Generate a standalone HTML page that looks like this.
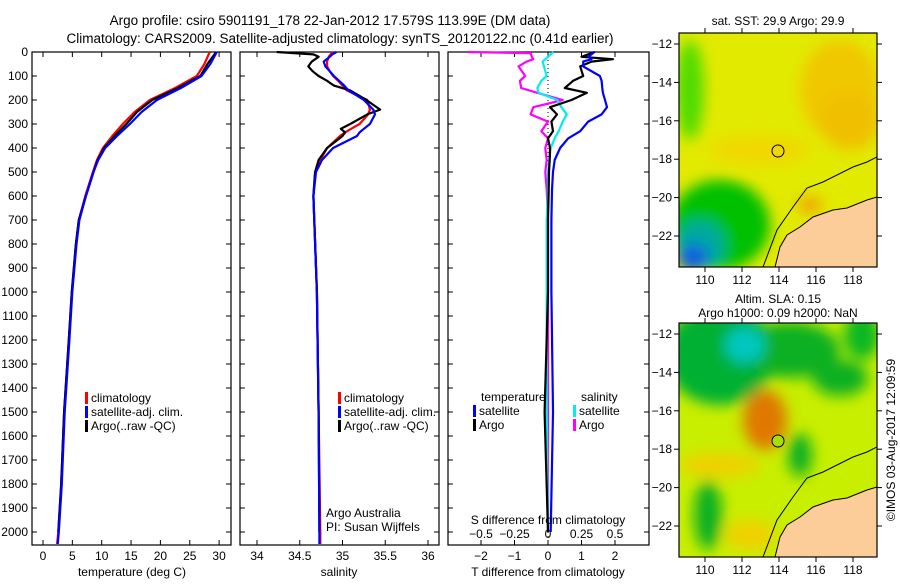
<!DOCTYPE html>
<html><head><meta charset="utf-8">
<style>
body{margin:0;background:#fff;width:900px;height:580px;overflow:hidden}
svg{font-family:"Liberation Sans",sans-serif;font-size:12px}
</style></head><body>
<svg id="chart" width="900" height="580">
<text x="330" y="25" text-anchor="middle" font-size="13.5">Argo profile: csiro 5901191_178 22-Jan-2012 17.579S 113.99E (DM data)</text>
<text x="340" y="43" text-anchor="middle" font-size="13.5">Climatology: CARS2009. Satellite-adjusted climatology: synTS_20120122.nc (0.41d earlier)</text>
<defs>
<filter id="bl" x="-50%" y="-50%" width="200%" height="200%"><feGaussianBlur stdDeviation="7"/></filter>
<clipPath id="m1"><rect x="679" y="33" width="198" height="234"/></clipPath>
<clipPath id="m2"><rect x="679" y="323" width="198" height="234"/></clipPath>
</defs>
<g id="maps"></g>
<g id="plots"></g>
</svg>
<script>
// ---- data ----
const depthsT=[0,50,100,150,200,250,300,350,400,450,500,600,700,800,1000,1200,1500,1800,2000,2050];
const tempClim=[28.4,27.5,26.2,22.5,18.2,15.6,13.6,11.8,10.2,9.2,8.5,7.2,6.1,5.6,4.9,4.4,3.6,3.1,2.6,2.4];
const tempSat=[29.6,28.5,27.0,23.5,19.4,16.8,14.8,12.6,10.6,9.4,8.6,7.3,6.2,5.7,5.0,4.5,3.7,3.2,2.7,2.5];
const tempArgo=[29.5,28.0,26.8,23.0,18.6,16.0,14.2,12.2,10.4,9.3,8.6,7.3,6.1,5.6,4.9,4.4,3.6,3.1,2.6];
const depthsS=[0,10,20,40,60,80,100,120,140,160,200,240,260,300,320,335,350,400,450,500,600,1000,1500,2000,2050];
const salClim=[34.89,34.86,34.84,34.82,34.82,34.85,34.89,34.95,35.0,35.05,35.29,35.32,35.3,35.2,35.1,35.03,34.97,34.82,34.74,34.68,34.66,34.70,34.72,34.74,34.74];
const salSat=[34.93,34.88,34.85,34.78,34.80,34.85,34.90,34.96,35.02,35.07,35.25,35.36,35.38,35.32,35.25,35.2,35.17,34.89,34.76,34.69,34.66,34.70,34.72,34.73,34.73];
const salArgo=[34.23,34.66,34.72,34.64,34.60,34.65,34.72,34.82,34.90,35.09,35.28,35.44,35.29,35.09,34.98,35.03,35.0,34.82,34.72,34.68,34.66,34.70,34.72,34.73];
const depthsD=[0,5,20,30,40,60,100,120,150,170,200,230,260,290,330,360,400,450,500,575,700,1000,1500,2000];
const dTsat=[1.3,1.34,1.2,1.3,1.05,1.05,1.55,1.6,1.62,1.64,1.7,1.76,1.6,1.2,0.96,0.6,0.36,0.2,0.15,0.12,0.1,0.1,0.15,0.08];
const dTargo=[1.4,1.3,1.0,1.94,1.3,0.96,1.05,0.75,0.5,1.16,0.7,0.06,0.27,0.1,0.15,0.0,0.06,0.05,0.03,0.02,0.0,0.0,-0.1,0.0];
const dSargo=[-0.6,-0.13,-0.12,-0.11,-0.16,-0.22,-0.17,-0.21,-0.2,-0.08,0.11,-0.11,-0.13,0.0,-0.05,0.0,-0.02,-0.01,-0.02,-0.01,0,0,0.0,0.0];
const dSsat=[0.04,0.03,0.0,-0.02,-0.04,-0.03,-0.01,-0.05,-0.08,-0.07,0.07,0.1,0.14,0.11,0.08,0.05,0.02,0.01,0,0,-0.01,-0.01,-0.01,0.0];
const depthTicks=[0,100,200,300,400,500,600,700,800,900,1000,1100,1200,1300,1400,1500,1600,1700,1800,1900,2000];
const tTicks=[0,5,10,15,20,25,30];
const sTicks=[34,34.5,35,35.5,36];
const dTTicks=[-2,-1,0,1,2];
const dSTicks=[-0.5,-0.25,0,0.25,0.5];

const NS='http://www.w3.org/2000/svg';
const P=document.getElementById('plots');
function mk(tag,at,a,b){
  let par,content;
  if(typeof a==='string'){content=a;par=b;}else{par=a;content=b;}
  const e=document.createElementNS(NS,tag);
  for(const k in at)e.setAttribute(k,at[k]);
  if(content!==undefined)e.textContent=content;
  (par||P).appendChild(e);return e;}
const yD=d=>52+d*0.24;
const xT=t=>43+t*5.87;
const xS=s=>257+(s-34)*85.5;
const xDT=t=>548+t*33.5;
const xDS=s=>548+s*134;
const Y0=52,Y1=545;

function frame(x0,x1,name){
  const r=mk('rect',{x:x0,y:Y0,width:x1-x0,height:Y1-Y0,fill:'none',stroke:'#000','stroke-width':1.2});
  
  
  depthTicks.forEach(d=>{
    mk('line',{x1:x0,x2:x0+5,y1:yD(d),y2:yD(d),stroke:'#000'});
    mk('line',{x1:x1,x2:x1-5,y1:yD(d),y2:yD(d),stroke:'#000'});
  });
}
function xticks(vals,fx,lab,yl){
  vals.forEach(v=>{
    mk('line',{x1:fx(v),x2:fx(v),y1:Y1,y2:Y1-5,stroke:'#000'});
    mk('line',{x1:fx(v),x2:fx(v),y1:Y0,y2:Y0+5,stroke:'#000'});
    if(lab){const t=mk('text',{x:fx(v),y:yl,'text-anchor':'middle'},String(v).replace('-','\u2212'));
      
      }
  });
}
function line(xs,ds,fx,col,name,w){
  const pts=xs.map((v,i)=>fx(v).toFixed(1)+','+yD(ds[i]).toFixed(1)).join(' ');
  const p=mk('polyline',{points:pts,fill:'none',stroke:col,'stroke-width':w||2.2,'stroke-linejoin':'round'});
  
  
}
// panel 1
frame(32,231,'temperature-panel');
depthTicks.forEach(d=>{const t=mk('text',{x:28,y:yD(d)+4,'text-anchor':'end'},String(d));
  
  });
xticks(tTicks,xT,true,560);
line(tempClim,depthsT,xT,'#f00','temp-climatology-line');
line(tempArgo,depthsT,xT,'#000','temp-argo-line');
line(tempSat,depthsT,xT,'#00f','temp-satellite-line');
// panel 2
frame(240,439,'salinity-panel');
xticks(sTicks,xS,true,560);
line(salClim,depthsS,xS,'#f00','sal-climatology-line');
line(salArgo,depthsS.slice(0,salArgo.length),xS,'#000','sal-argo-line');
line(salSat,depthsS,xS,'#00f','sal-satellite-line');
// panel 3
frame(448,649,'difference-panel');
xticks(dTTicks,xDT,true,560);
dSTicks.forEach(v=>{const t=mk('text',{x:xDS(v),y:538,'text-anchor':'middle'},String(v).replace('-','\u2212'));
  
  });
mk('line',{x1:548,x2:548,y1:Y0,y2:Y1,stroke:'#000','stroke-dasharray':'1,3'});
line(dSargo,depthsD,xDS,'#f0f','s-diff-argo-line');
line(dSsat,depthsD,xDS,'#0ee','s-diff-satellite-line');
line(dTargo,depthsD,xDT,'#000','t-diff-argo-line');
line(dTsat,depthsD,xDT,'#00f','t-diff-satellite-line');

// labels & legends
function txt(x,y,s,name,anchor,size){const t=mk('text',{x:x,y:y,'text-anchor':anchor||'start','font-size':size||12},s);
  
  return t;}
txt(132,576,'temperature (deg C)','x-axis-title-temperature','middle');
txt(339,576,'salinity','x-axis-title-salinity','middle');
txt(548,576,'T difference from climatology','x-axis-title-t-diff','middle');
txt(548,524,'S difference from climatology','s-diff-axis-title','middle');
function leg(x,y,col,label,name){mk('rect',{x:x,y:y-10,width:3,height:12,fill:col});txt(x+6,y,label,name);}
leg(85,402,'#f00','climatology','legend-climatology');
leg(85,416,'#00f','satellite-adj. clim.','legend-satellite');
leg(85,430,'#000','Argo(..raw -QC)','legend-argo');
leg(338,402,'#f00','climatology','legend-climatology-2');
leg(338,416,'#00f','satellite-adj. clim.','legend-satellite-2');
leg(338,430,'#000','Argo(..raw -QC)','legend-argo-2');
txt(481,401,'temperature','legend-title-temperature');
txt(581,401,'salinity','legend-title-salinity');
leg(473,415,'#00f','satellite','legend-t-satellite');
leg(473,429,'#000','Argo','legend-t-argo');
leg(573,415,'#0ee','satellite','legend-s-satellite');
leg(573,429,'#f0f','Argo','legend-s-argo');
txt(326,517,'Argo Australia','argo-australia-label');
txt(326,531,'PI: Susan Wijffels','pi-label');

// ---- maps ----
const M=document.getElementById('maps');
const latTicks=[-12,-14,-16,-18,-20,-22];
const lonTicks=[110,112,114,116,118];
const xLon=l=>705+(l-110)*18.5;
const yLat=l=>44+(-12-l)*19.2;
function drawMap(off,clip,blobs,base,name){
  const g=mk('g',{'clip-path':'url(#'+clip+')'},M);
  
  
  mk('rect',{x:679,y:33+off,width:198,height:234,fill:base},g);
  const gb=mk('g',{filter:'url(#bl)'},g);
  blobs.forEach(b=>mk('ellipse',{cx:b[0],cy:b[1]+off,rx:b[2],ry:b[3],fill:b[4]},gb));
  const coast=[[877,197],[867,200],[847,208],[833,210],[813,217],[800,227],[787,235],[780,247],[775,267]];
  mk('polygon',{points:coast.map(p=>p[0]+','+(p[1]+off)).join(' ')+' 877,'+(267+off),fill:'#fccc99',stroke:'#000','stroke-width':1},g);
  const bath=[[877,157],[867,162],[853,167],[823,182],[807,188],[793,207],[777,230],[763,267]];
  mk('polyline',{points:bath.map(p=>p[0]+','+(p[1]+off)).join(' '),fill:'none',stroke:'#000','stroke-width':1},g);
  mk('rect',{x:679,y:33+off,width:198,height:234,fill:'none',stroke:'#000','stroke-width':1.2},M);
  latTicks.forEach(l=>{const y=yLat(l)+off;
    mk('line',{x1:679,x2:674,y1:y,y2:y,stroke:'#000'},M);
    mk('line',{x1:877,x2:882,y1:y,y2:y,stroke:'#000'},M);
    const t=mk('text',{x:672,y:y+4,'text-anchor':'end'},String(l).replace('-','\u2212'),M);
    
    });
  lonTicks.forEach(l=>{mk('line',{x1:xLon(l),x2:xLon(l),y1:267+off,y2:272+off,stroke:'#000'},M);
    mk('line',{x1:xLon(l),x2:xLon(l),y1:33+off,y2:28+off,stroke:'#000'},M);
    const t=mk('text',{x:xLon(l),y:284+off,'text-anchor':'middle'},String(l),M);
    
    });
  mk('circle',{cx:778,cy:151+off,r:6,fill:off?'#a8e000':'none',stroke:'#000','stroke-width':1},M);
}
drawMap(0,'m1',[
 [690,90,14,50,'#50dc00'],[840,90,40,50,'#f0c800'],[850,120,30,30,'#f0c000'],[760,150,50,15,'#f0d800'],
 [720,225,50,45,'#00c000'],[700,245,25,25,'#00a8a0'],[693,258,16,14,'#1060e0'],[810,205,12,8,'#f0a000']
],'#e2ea00','sst-map');
drawMap(290,'m2',[
 [720,65,55,50,'#00b030'],[790,60,50,28,'#10b020'],[745,55,20,18,'#00c8c0'],[840,88,28,18,'#10b020'],
 [765,130,22,30,'#e07800'],[720,175,40,12,'#f0d000'],[800,165,12,22,'#10b020'],[708,225,14,35,'#10b020'],
 [750,245,25,15,'#f0d000'],[862,45,18,25,'#10b820']
],'#c8ee00','sla-map');
function tx(x,y,s,n){const t=mk('text',{x:x,y:y,'text-anchor':'middle'},s,M);
  
  }
tx(778,25,'sat. SST: 29.9 Argo: 29.9','sst-map-title');
tx(778,303,'Altim. SLA: 0.15','sla-map-title');
tx(778,317,'Argo h1000: 0.09 h2000: NaN','sla-map-subtitle');
const cr=mk('text',{x:895,y:440,'text-anchor':'middle',transform:'rotate(-90 895 440)'},'\u00a9IMOS 03-Aug-2017 12:09:59',M);


</script>
</body></html>
